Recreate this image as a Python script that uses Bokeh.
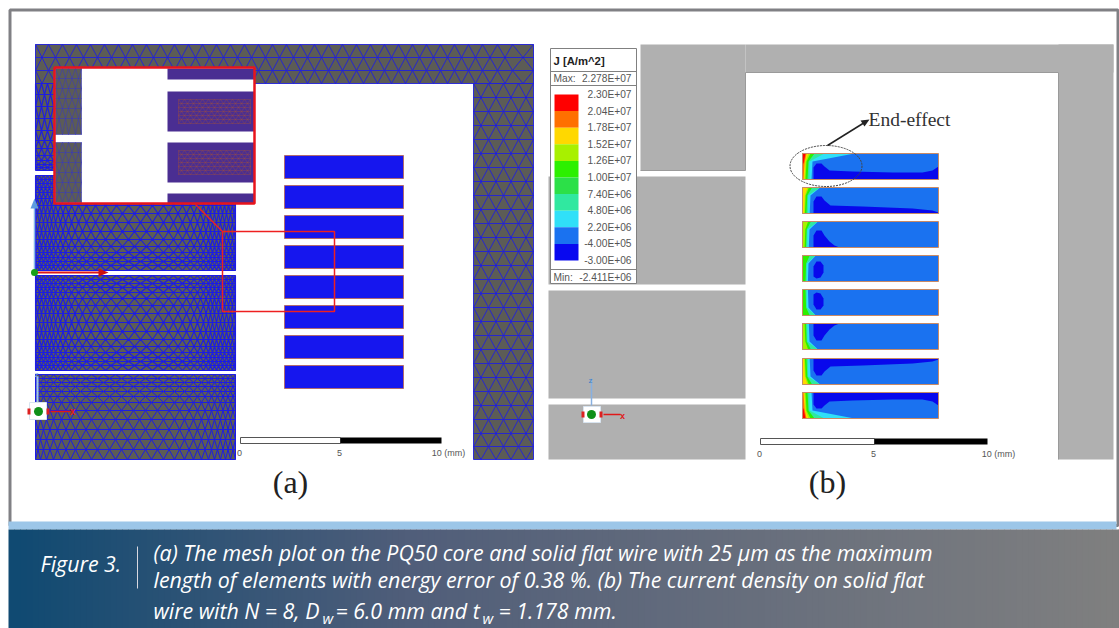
from bokeh.plotting import figure
from bokeh.models import Range1d
from bokeh.embed import file_html
from bokeh.resources import INLINE
from bokeh.core.properties import value

# ---- data (reference pixel coordinates) ----
LEGEND_TITLE = "J [A/m^2]"
LEGEND_MAX = ("Max:", "2.278E+07")
LEGEND_MIN = ("Min:", "-2.411E+06")
LEGEND_LABELS = ["2.30E+07", "2.04E+07", "1.78E+07", "1.52E+07", "1.26E+07", "1.00E+07",
                 "7.40E+06", "4.80E+06", "2.20E+06", "-4.00E+05", "-3.00E+06"]
LEGEND_COLORS = ["#ff0000", "#ff7000", "#ffd800", "#a8f000", "#2cf000", "#2ce048",
                 "#30e8a0", "#30e0f8", "#1a72f0", "#0808f0"]
CAPTION_LABEL = "Figure 3."
CAPTION_1 = "(a) The mesh plot on the PQ50 core and solid flat wire with 25 μm as the maximum"
CAPTION_2 = "length of elements with energy error of 0.38 %. (b) The current density on solid flat"
CAPTION_3 = ["wire with N = 8, D", " = 6.0 mm and t", " = 1.178 mm."]

COIL_A_TOPS = [155, 185, 215, 245, 275, 305, 335, 365]
COIL_B_TOPS = [153, 187, 221, 255, 289, 323, 358, 392]

COLS_FINE = [35, 39, 43, 47, 51, 55, 60, 65, 71, 78, 86, 95, 105, 116, 128, 140, 152, 163, 173, 182, 190, 197, 203,
             208, 212, 216, 220, 224, 228, 232, 235]
COLS_LOW = [35, 40, 46, 53, 61, 70, 80, 91, 103, 115, 127, 139, 151, 163, 174, 184, 193, 201, 208, 214, 220, 225, 230, 235]
ROWS_LEG2 = [175, 179, 183, 187, 192, 198, 205, 213, 222, 231, 239, 246, 252, 257, 261, 265, 270]
ROWS_LEG3 = [275, 279, 283, 287, 292, 298, 305, 313, 322, 331, 339, 346, 352, 357, 361, 365, 370]
ROWS_LEG4 = [374, 378, 382, 386, 391, 396, 402, 410, 419, 429, 439, 449, 459]
ROWS_LEG1 = [83, 94, 106, 118, 130, 140, 148, 155, 160, 164, 167, 170]
COLS_LEG1 = [35, 41, 47, 53, 60, 235]
COLS_TOP = [35, 48, 62, 76, 90, 104, 118, 132, 146, 160, 174, 188, 202, 216, 230, 244, 258, 272, 286, 300, 314,
            328, 342, 356, 370, 384, 398, 412, 426, 440, 454, 468, 482, 497, 512, 533]
ROWS_TOP = [44, 57, 70, 83]
COLS_RIGHT = [473, 488, 503, 518, 533]
ROWS_RIGHT = [83, 97, 111, 125, 139, 153, 167, 181, 195, 209, 223, 237, 251, 265, 279, 293, 307, 321, 335,
              349, 363, 377, 391, 405, 419, 433, 446, 459]

# dark-blue zone of each wire in panel (b): (distance along wire, distance from outer edge)
DARK_1 = [(11, 26), (11, 14), (14, 10), (19, 10), (22, 13), (27, 17), (50, 18), (90, 19), (120, 19), (130, 17), (136, 13), (136, 26)]
DARK_2 = [(11, 26), (11, 14), (14, 9), (19, 9), (22, 13), (28, 18), (60, 19), (110, 21), (130, 23), (136, 25), (136, 26)]
DARK_3 = [(11, 26), (11, 14), (14, 9), (19, 9), (22, 14), (27, 20), (32, 24), (37, 26)]
DARK_4 = [(11, 21), (11, 11), (14, 6), (18, 6), (21, 10), (21, 17), (18, 22), (14, 23)]
DARK_ZONES = [DARK_1, DARK_2, DARK_3, DARK_4, DARK_4, DARK_3, DARK_2, DARK_1]
# coloured fan at the wire's left end: (top, mid, mid-height, bottom) per colour
FAN = [("#30e0f8", 52, 10, 8, 9), ("#30e8a0", 22, 7, 8, 7), ("#2cf000", 12, 6, 8, 5),
       ("#a8f000", 8, 4, 8, 3), ("#ffd800", 6, 3, 8, 2), ("#ff7000", 4, 2, 10, 1), ("#ff0000", 3, 1, 10, 0)]
FAN_LAYERS = [7, 5, 4, 3, 3, 4, 5, 7]
FAN_SCALE = [1.0, 0.8, 0.7, 0.6, 0.6, 0.7, 0.8, 1.0]

# ---- figure: one unit of data is one pixel ----
p = figure(width=1119, height=628, x_range=Range1d(0, 1119), y_range=Range1d(628, 0),
           x_axis_type=None, y_axis_type=None, output_backend="svg", toolbar_location=None,
           min_border=0, outline_line_color=None, background_fill_color="#ffffff")
p.grid.visible = False


def lerp(a, b, t):
    return a + (b - a) * t


def mesh(cols, rows, color="#2020dc", lw=0.8, alpha=1.0):
    """Triangulated mesh: horizontal rows joined by a zigzag whose nodes shift half a cell per row."""
    mids = [(a + b) / 2 for a, b in zip(cols, cols[1:])]
    xs, ys = [], []
    for r in rows:
        xs.append([cols[0], cols[-1]]); ys.append([r, r])
    for j in range(len(rows) - 1):
        zx, zy = [], []
        a, b = rows[j], rows[j + 1]
        if j % 2:
            a, b = b, a
        for c, m in zip(cols, mids):
            zx += [c, m]; zy += [a, b]
        zx.append(cols[-1]); zy.append(a)
        xs.append(zx); ys.append(zy)
    xs.append([cols[0], cols[0]]); ys.append([rows[0], rows[-1]])
    xs.append([cols[-1], cols[-1]]); ys.append([rows[0], rows[-1]])
    p.multi_line(xs, ys, line_color=color, line_width=lw, line_alpha=alpha)


def rect(x0, y0, x1, y1, fill, line=None, lw=1.0):
    p.quad(left=[x0], right=[x1], top=[y0], bottom=[y1], fill_color=fill, line_color=line, line_width=lw)


def text(x, y, s, size, color="#333333", font="Liberation Sans", align="left", style="normal"):
    p.text([x], [y], text=[s], text_font=value(font), text_font_size=f"{size}px", text_color=color,
           text_align=align, text_baseline="middle", text_font_style=style)


# outer frame
p.quad(left=[9.5], right=[1117.5], top=[9.5], bottom=[525], fill_color="#ffffff", line_color="#808084", line_width=3)

# ---------- panel (a) ----------
GREY = "#5c5c56"
rect(35, 44, 533, 83, GREY)
rect(473, 44, 533, 459, GREY)
rect(35, 44, 235, 170, GREY)
rect(35, 175, 235, 270, GREY)
rect(35, 275, 235, 370, GREY)
rect(35, 374, 235, 459, GREY)
mesh(COLS_TOP, ROWS_TOP, lw=0.9)
mesh(COLS_RIGHT, ROWS_RIGHT, lw=0.9)
mesh(COLS_LEG1, ROWS_LEG1, "#1c1ce4", 1.1)
mesh(COLS_FINE, ROWS_LEG2, "#1c1ce4", 1.1)
mesh(COLS_FINE, ROWS_LEG3, "#1c1ce4", 1.1)
mesh(COLS_LOW, ROWS_LEG4, "#1c1ce4", 1.0)

for t in COIL_A_TOPS:
    rect(284, t, 403, t + 23, "#1616ee", "#b06a70", 1)

# red zoom window and inset
p.quad(left=[222], right=[334], top=[231], bottom=[311], fill_color=None, line_color="#ee2020", line_width=1.5)
p.line([195, 222], [204, 231], line_color="#ee2020", line_width=1.5)
rect(54, 67, 254, 203, "#ffffff")
rect(55, 68, 81, 134, GREY)
rect(55, 142, 81, 202, GREY)
for a, b in [(68, 79), (91, 131), (142, 182), (193, 203)]:
    rect(167, a, 254, b, "#4a2e92")
mesh([55, 62, 68, 75, 81], [68, 78, 88, 98, 108, 118, 134], "#3a3ab8", 0.6)
mesh([55, 62, 68, 75, 81], [142, 152, 162, 172, 182, 192, 202], "#3a3ab8", 0.6)
mesh([178, 184, 190, 196, 202, 208, 214, 220, 226, 232, 238, 244, 250], [99, 103, 107, 111, 115, 119, 123], "#b0522c", 0.6, 0.55)
mesh([178, 184, 190, 196, 202, 208, 214, 220, 226, 232, 238, 244, 250], [150, 154, 158, 162, 166, 170, 174], "#b0522c", 0.6, 0.55)
p.quad(left=[54], right=[254], top=[67], bottom=[203], fill_color=None, line_color="#e8141c", line_width=2.5)

# global axes triad
p.line([34, 34], [205, 272], line_color="#88b8e8", line_width=1.5)
p.patch([30, 34, 38], [208, 198, 208], fill_color="#5c9ae0", line_color=None)
p.line([36, 100], [272, 272], line_color="#e01818", line_width=2)
p.patch([98, 108, 98], [268, 272, 276], fill_color="#cc1010", line_color=None)
p.scatter([34], [272], size=7, fill_color="#18a018", line_color=None)

# small triad (a)
p.line([37, 37], [376, 404], line_color="#a0c8f0", line_width=2)
rect(29, 402, 46, 419, "#ffffff", "#d8e4f0", 1)
p.scatter([38], [411], size=9, fill_color="#109018", line_color=None)
rect(27, 408, 30, 414, "#dd2020")
rect(46, 408, 49, 414, "#dd2020")
p.line([50, 70], [411, 411], line_color="#e01818", line_width=1.5)
text(72, 411, "x", 10, "#e01818", align="center", style="bold")
text(36, 374, "z", 8, "#88b8e8", align="center")

# scale bar (a)
rect(240, 437, 340, 443, "#ffffff", "#555555", 1)
rect(340, 437, 441, 443, "#000000")
text(239, 452, "0", 9, "#555555", align="center")
text(339, 452, "5", 9, "#555555", align="center")
text(448, 452, "10 (mm)", 9, "#555555", align="center")
text(290, 481, "(a)", 32, "#222222", "Liberation Serif", "center")

# ---------- panel (b) ----------
LG = "#b0b0b0"
rect(745, 44, 1113, 72, LG)
rect(640, 44, 745, 170, LG)
rect(1058, 44, 1113, 459, LG)
rect(548, 176, 745, 284, LG)
rect(548, 290, 745, 398, LG)
rect(548, 404, 745, 459, LG)
p.line([640, 745, 745, 1058, 1058], [170, 170, 72, 72, 459], line_color="#9a9a9a", line_width=1)

# legend box
rect(550, 48, 636, 283, "#ffffff", "#808080", 1)
p.line([550, 636], [71, 71], line_color="#808080", line_width=1)
p.line([550, 636], [85, 85], line_color="#808080", line_width=1)
p.line([550, 636], [269, 269], line_color="#808080", line_width=1)
text(553, 60, LEGEND_TITLE, 11.3, "#222222", style="bold")
text(553, 78, LEGEND_MAX[0], 10.2, "#555555")
text(631, 78, LEGEND_MAX[1], 10.2, "#555555", align="right")
text(553, 277, LEGEND_MIN[0], 10.2, "#555555")
text(631, 277, LEGEND_MIN[1], 10.2, "#555555", align="right")
sw = (260 - 94) / len(LEGEND_COLORS)
for i, c in enumerate(LEGEND_COLORS):
    rect(554, 94 + i * sw, 578, 94 + (i + 1) * sw, c)
for i, s in enumerate(LEGEND_LABELS):
    text(631, 94 + i * sw, s, 10.2, "#555555", align="right")

# current-density wires
X0, L, H = 802, 136, 26
for i, top in enumerate(COIL_B_TOPS):
    rect(X0, top, X0 + L, top + H, "#1a72f0")
    mirror = i >= 4

    def Y(v):
        return top + H - v if mirror else top + v

    zone = DARK_ZONES[i]
    p.patch([X0 + u for u, v in zone], [Y(v) for u, v in zone], fill_color="#0808ec", line_color=None)
    s = FAN_SCALE[i]
    for c, ut, um, vm, ub in FAN[:FAN_LAYERS[i]]:
        us = [0, ut * s, um * s, ub * s, 0]
        vs = [0, 0, vm, H, H]
        if c == "#ff0000":
            us = [0, ut, um, 0]
            vs = [0, 0, vm, vm]
        elif c == "#30e0f8" and i not in (0, 7):
            us[1] = 22 * s
        p.patch([X0 + u for u in us], [Y(v) for v in vs], fill_color=c, line_color=None)
    p.quad(left=[X0], right=[X0 + L], top=[top], bottom=[top + H], fill_color=None, line_color="#c88a66", line_width=1)

# end-effect note
p.ellipse([825.5], [165.5], width=[72], height=[41], fill_color=None, line_color="#444444", line_width=1, line_dash="2 1")
p.line([827, 864], [145, 122], line_color="#222222", line_width=1.5)
p.patch([869, 860, 864], [119, 120, 126], fill_color="#222222", line_color=None)
text(868, 119, "End-effect", 19.5, "#333333", "Liberation Serif")

# small triad (b)
p.line([591, 591], [378, 405], line_color="#88b0e0", line_width=1.5)
rect(583, 406, 600, 422, "#ffffff", "#d8e4f0", 1)
p.scatter([591], [414], size=9, fill_color="#109018", line_color=None)
rect(581, 411, 584, 417, "#dd2020")
rect(599, 411, 602, 417, "#dd2020")
p.line([603, 620], [414, 414], line_color="#e01818", line_width=1.5)
text(622, 415, "x", 9, "#e01818", align="center", style="bold")
text(590, 380, "z", 8, "#4080c0", align="center")

# scale bar (b)
rect(760, 438, 874, 444, "#ffffff", "#555555", 1)
rect(874, 438, 987, 444, "#000000")
text(759, 453, "0", 9, "#555555", align="center")
text(873, 453, "5", 9, "#555555", align="center")
text(998, 453, "10 (mm)", 9, "#555555", align="center")
text(827, 481, "(b)", 32, "#222222", "Liberation Serif", "center")

# ---------- caption band ----------
rect(8, 521, 1116, 529, "#9cc6e8")
STOPS = [(8, (0x10, 0x4a, 0x72)), (400, (0x50, 0x5e, 0x7a)), (1119, (0x80, 0x80, 0x80))]
lefts, rights, cols = [], [], []
for x in range(8, 1119, 6):
    for (a, ca), (b, cb) in zip(STOPS, STOPS[1:]):
        if a <= x <= b:
            t = (x - a) / (b - a)
            c = tuple(int(lerp(u, w, t)) for u, w in zip(ca, cb))
            lefts.append(x); rights.append(min(x + 6.5, 1119)); cols.append("#%02x%02x%02x" % c)
            break
p.quad(left=lefts, right=rights, top=529, bottom=628, fill_color=cols, line_color=None)

F = "Open Sans"
SZ = 21.35
text(40, 563, CAPTION_LABEL, SZ, "#ffffff", F, style="italic")
p.line([137, 137], [546, 588], line_color="#d8d8e0", line_width=1)
text(153, 552, CAPTION_1, SZ, "#ffffff", F, style="italic")
text(153, 579, CAPTION_2, SZ, "#ffffff", F, style="italic")
text(153, 610, CAPTION_3[0], SZ, "#ffffff", F, style="italic")
text(322, 617, "w", 15, "#ffffff", F, style="italic")
text(335, 610, CAPTION_3[1], SZ, "#ffffff", F, style="italic")
text(482, 617, "w", 15, "#ffffff", F, style="italic")
text(498, 610, CAPTION_3[2], SZ, "#ffffff", F, style="italic")

html = file_html(p, INLINE)
open("out.html", "w").write(html)
